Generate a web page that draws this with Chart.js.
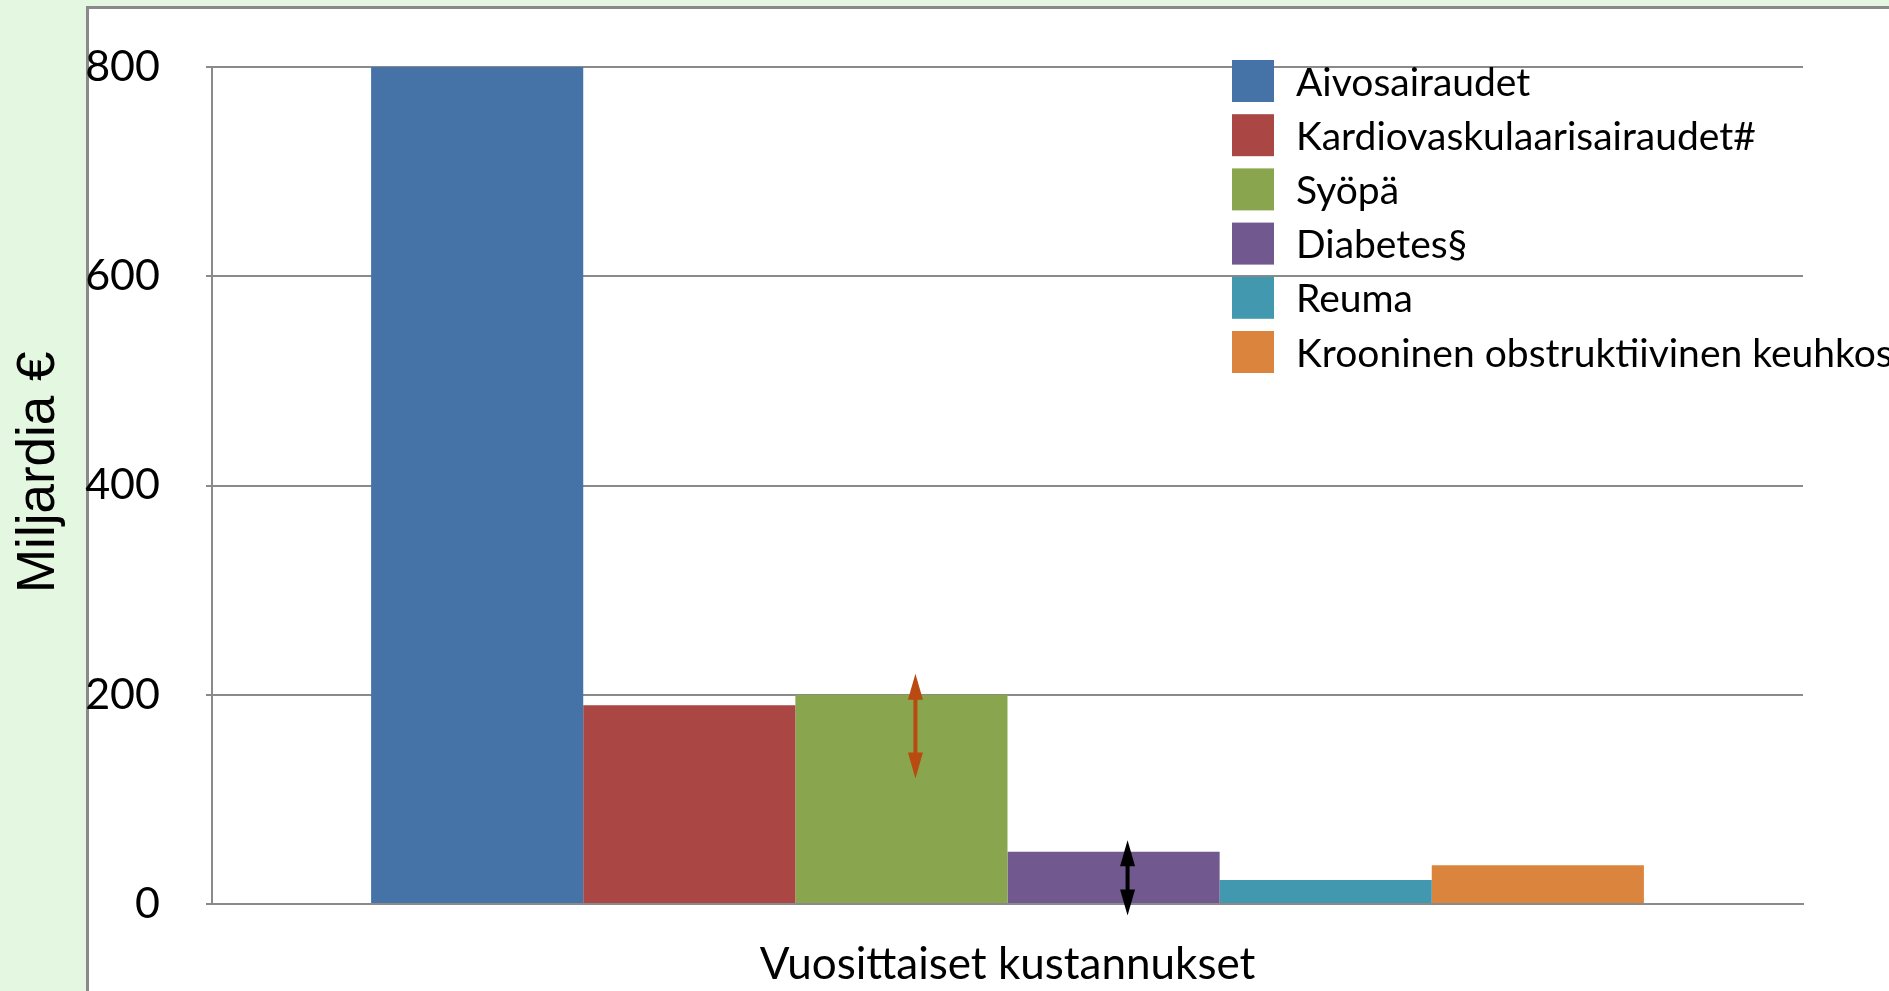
<!DOCTYPE html>
<html>
<head>
<meta charset="utf-8">
<script src="https://cdn.jsdelivr.net/npm/chart.js@4.4.1/dist/chart.umd.min.js"></script>
<style>
  html, body { margin: 0; padding: 0; overflow: hidden; background: #e4f7e0; }
  #frame {
    position: absolute; left: 86px; top: 6px; width: 1900px; height: 1000px;
    background: #fff; border-left: 3px solid #8a8a8a; border-top: 3px solid #8a8a8a;
  }
  #chart { position: absolute; left: 0; top: 0; }
</style>
</head>
<body>
<div id="frame"></div>
<canvas id="chart" width="1889" height="991"></canvas>
<script>
// Chart data
const categories = [''];
const seriesNames = [
  'Aivosairaudet',
  'Kardiovaskulaarisairaudet#',
  'Syöpä',
  'Diabetes§',
  'Reuma',
  'Krooninen obstruktiivinen keuhkosairaus'
];
const seriesValues = [800, 190, 200, 50, 23, 37];
const arrowLow = [null, null, 120, -11, null, null];
const arrowHigh = [null, null, 220, 61, null, null];
const yTicks = [0, 200, 400, 600, 800];

const seriesColors = ['#4572a7', '#aa4643', '#89a54e', '#71588f', '#4198af', '#db843d'];
const arrowColors = [null, null, '#b94a10', '#000000', null, null];
const gridColor = '#8a8a8a';

// Legend drawn inside the plot, top right
const legendPlugin = {
  id: 'boxLegend',
  afterDraw(chart) {
    const ctx = chart.ctx;
    const x = 1232, top0 = 60, size = 42, gap = 54.2, textX = 1296;
    ctx.save();
    ctx.font = '39px Lato';
    ctx.textBaseline = 'middle';
    ctx.textAlign = 'left';
    chart.data.datasets.forEach((ds, i) => {
      const top = top0 + i * gap;
      ctx.fillStyle = ds.backgroundColor;
      ctx.fillRect(x, top, size, size);
      ctx.fillStyle = '#000';
      ctx.fillText(ds.label, textX, top + size / 2 + 2);
    });
    ctx.restore();
  }
};

// Double-headed arrows over some bars
const arrowPlugin = {
  id: 'rangeArrows',
  afterDatasetsDraw(chart) {
    const ctx = chart.ctx;
    const y = chart.scales.y;
    ctx.save();
    seriesValues.forEach((_, i) => {
      if (arrowLow[i] === null) return;
      const bar = chart.getDatasetMeta(i).data[0];
      const x = bar.x + 14;
      const yTop = y.getPixelForValue(arrowHigh[i]);
      const yBot = y.getPixelForValue(arrowLow[i]);
      const head = 26, half = 7.5;
      ctx.fillStyle = arrowColors[i];
      ctx.strokeStyle = arrowColors[i];
      ctx.lineWidth = 4;
      ctx.beginPath();
      ctx.moveTo(x, yTop + head - 2);
      ctx.lineTo(x, yBot - head + 2);
      ctx.stroke();
      ctx.beginPath();
      ctx.moveTo(x, yTop);
      ctx.lineTo(x - half, yTop + head);
      ctx.lineTo(x + half, yTop + head);
      ctx.closePath();
      ctx.fill();
      ctx.beginPath();
      ctx.moveTo(x, yBot);
      ctx.lineTo(x - half, yBot - head);
      ctx.lineTo(x + half, yBot - head);
      ctx.closePath();
      ctx.fill();
    });
    ctx.restore();
  }
};

function drawChart() {
  const ctx = document.getElementById('chart').getContext('2d');
  new Chart(ctx, {
    type: 'bar',
    data: {
      labels: categories,
      datasets: seriesNames.map((name, i) => ({
        label: name,
        data: [seriesValues[i]],
        backgroundColor: seriesColors[i],
        borderWidth: 0,
        categoryPercentage: 0.8,
        barPercentage: 1.0
      }))
    },
    options: {
      responsive: false,
      devicePixelRatio: 1,
      animation: false,
      layout: { padding: { top: 20, right: 86, bottom: 0, left: 0 } },
      plugins: {
        legend: { display: false },
        tooltip: { enabled: false }
      },
      scales: {
        x: {
          grid: { display: false, drawTicks: false },
          border: { display: true, color: gridColor, width: 2 },
          ticks: { display: false },
          title: {
            display: true,
            text: 'Vuosittaiset kustannukset',
            color: '#000',
            font: { family: 'Lato', size: 44 },
            padding: { top: 0, bottom: 0 }
          },
          afterFit: s => { s.height = 87; }
        },
        y: {
          min: 0,
          max: 800,
          afterBuildTicks: s => { s.ticks = yTicks.map(v => ({ value: v })); },
          grid: { color: gridColor, lineWidth: 2, tickLength: 6 },
          border: { display: true, color: gridColor, width: 2 },
          ticks: {
            color: '#000',
            padding: 46,
            font: { family: 'Lato', size: 43, lineHeight: 0.98 }
          },
          title: {
            display: true,
            text: '\u2002Miljardia €',
            color: '#000',
            font: { family: 'Liberation Sans', size: 53 },
            padding: { top: 8, bottom: 0 }
          },
          afterFit: s => { s.width = 212; }
        }
      }
    },
    plugins: [arrowPlugin, legendPlugin]
  });
}

Promise.all([
  document.fonts.load('39px Lato'),
  document.fonts.load('53px "Liberation Sans"')
]).then(drawChart, drawChart);
</script>
</body>
</html>
